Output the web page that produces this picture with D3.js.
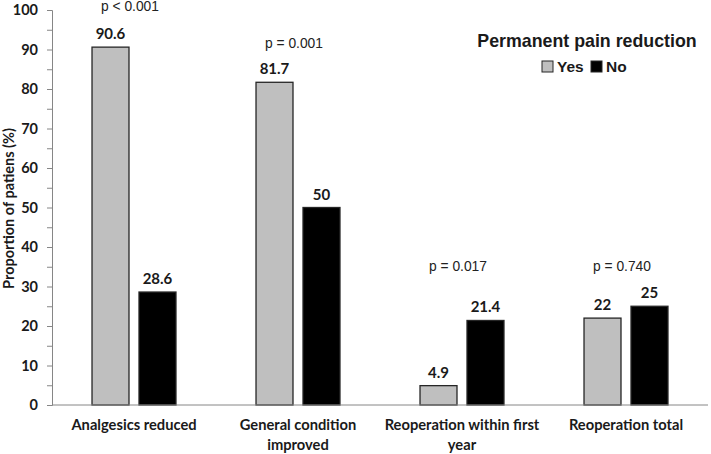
<!DOCTYPE html>
<html>
<head>
<meta charset="utf-8">
<script src="https://cdn.jsdelivr.net/npm/d3@7"></script>
<style>
  html, body { margin: 0; padding: 0; background: #fff; }
  svg { display: block; }
</style>
</head>
<body>
<svg id="chart" width="711" height="454"></svg>
<script>
// Grouped bars — outcome by permanent pain reduction (Yes / No).

const CATEGORIES = [
  ['Analgesics reduced'],
  ['General condition', 'improved'],
  ['Reoperation within first', 'year'],
  ['Reoperation total']
];
const SERIES = ['Yes', 'No'];
const YES = [90.6, 81.7, 4.9, 22];
const NO = [28.6, 50, 21.4, 25];
const VALUE_LABELS_YES = ['90.6', '81.7', '4.9', '22'];
const VALUE_LABELS_NO = ['28.6', '50', '21.4', '25'];
const P_VALUES = ['p < 0.001', 'p = 0.001', 'p = 0.017', 'p = 0.740'];
const P_AT = [99.8, 90.4, 33.8, 33.8];     // where the p label sits, in % units
const Y_TICKS = [0, 10, 20, 30, 40, 50, 60, 70, 80, 90, 100];
const Y_MINOR = d3.range(0, 101, 5);

const GREY = '#BFBFBF';
const BLACK = '#000000';
const INK = '#1a1a1a';
const AXIS = '#868686';
const CAL = 'Lato, "Open Sans", sans-serif';
const ARIAL = '"Liberation Sans", Arial, sans-serif';

const W = 711, H = 454;
const m = { top: 10, right: 3, bottom: 49, left: 52 };
const iw = W - m.left - m.right;
const ih = H - m.top - m.bottom;

const svg = d3.select('#chart');
const root = svg.append('g').attr('transform', `translate(${m.left},${m.top})`);

const x = d3.scaleBand().domain(d3.range(CATEGORIES.length)).range([0, iw])
  .paddingInner(0.488).paddingOuter(0.244);
const xs = d3.scaleBand().domain(SERIES).range([0, x.bandwidth()]).paddingInner(0.213);
const y = d3.scaleLinear().domain([0, 100]).range([ih, 0]);

// y axis with minor ticks every 5
root.append('g')
  .call(d3.axisLeft(y).tickValues(Y_MINOR).tickSize(5).tickFormat(''))
  .call(g => g.selectAll('line, path').attr('stroke', AXIS).attr('stroke-width', 1));
root.append('g')
  .call(d3.axisLeft(y).tickValues(Y_TICKS).tickSize(0).tickPadding(14).tickFormat(d3.format('d')))
  .call(g => g.select('.domain').remove())
  .call(g => g.selectAll('text').attr('fill', INK)
    .style('font-family', CAL).style('font-size', '14.5px').style('font-weight', '700'));

root.append('text')
  .attr('transform', `translate(${-43},${ih / 2 + 1}) rotate(-90)`)
  .attr('text-anchor', 'middle').attr('dy', '0.35em')
  .attr('fill', INK).style('font-family', CAL).style('font-size', '14.5px').style('font-weight', '700')
  .text('Proportion of patiens (%)');

// bars
const rows = CATEGORIES.map((c, i) => ({
  i,
  bars: [
    { key: 'Yes', value: YES[i], label: VALUE_LABELS_YES[i] },
    { key: 'No', value: NO[i], label: VALUE_LABELS_NO[i] }
  ]
}));

const grp = root.selectAll('g.grp').data(rows).join('g')
  .attr('class', 'grp')
  .attr('transform', d => `translate(${x(d.i)},0)`);

grp.selectAll('rect').data(d => d.bars).join('rect')
  .attr('x', d => xs(d.key))
  .attr('width', xs.bandwidth())
  .attr('y', d => y(d.value))
  .attr('height', d => ih - y(d.value))
  .attr('fill', d => d.key === 'Yes' ? GREY : BLACK)
  .attr('stroke', '#262626').attr('stroke-width', 1.3);

grp.selectAll('text.val').data(d => d.bars).join('text')
  .attr('class', 'val')
  .attr('x', d => xs(d.key) + xs.bandwidth() / 2)
  .attr('y', d => y(d.value) - 8)
  .attr('text-anchor', 'middle').attr('fill', INK)
  .style('font-family', CAL).style('font-size', '15px').style('font-weight', '700')
  .text(d => d.label);

// p-values
root.selectAll('text.p').data(P_VALUES).join('text')
  .attr('class', 'p')
  .attr('x', (d, i) => x(i) + x.bandwidth() / 2 - 4)
  .attr('y', (d, i) => y(P_AT[i]))
  .attr('text-anchor', 'middle').attr('fill', '#222')
  .style('font-family', ARIAL).style('font-size', '13.8px')
  .text(d => d);

// x axis
root.append('line')
  .attr('x1', 0).attr('x2', iw).attr('y1', ih).attr('y2', ih)
  .attr('stroke', AXIS).attr('stroke-width', 1);

root.selectAll('text.cat').data(CATEGORIES).join('text')
  .attr('class', 'cat')
  .attr('x', (d, i) => x(i) + x.bandwidth() / 2)
  .attr('y', ih + 25)
  .attr('text-anchor', 'middle').attr('fill', INK)
  .style('font-family', CAL).style('font-size', '14.7px').style('font-weight', '700')
  .selectAll('tspan').data(d => d).join('tspan')
  .attr('x', function () { return this.parentNode.getAttribute('x'); })
  .attr('dy', (d, j) => j === 0 ? 0 : 20)
  .text(d => d);

// legend
const lg = svg.append('g').attr('transform', 'translate(587,47)');
lg.append('text')
  .attr('text-anchor', 'middle').attr('fill', INK)
  .style('font-family', ARIAL).style('font-size', '17.8px').style('font-weight', '700')
  .text('Permanent pain reduction');

const items = lg.selectAll('g.item').data(SERIES).join('g')
  .attr('class', 'item')
  .attr('transform', (d, i) => `translate(${-45 + i * 49},14)`);
items.append('rect')
  .attr('width', 11).attr('height', 11)
  .attr('fill', d => d === 'Yes' ? GREY : BLACK)
  .attr('stroke', '#262626').attr('stroke-width', 1);
items.append('text')
  .attr('x', 15).attr('y', 10.5).attr('fill', INK)
  .style('font-family', ARIAL).style('font-size', '15.5px').style('font-weight', '700')
  .text(d => d);
</script>
</body>
</html>
